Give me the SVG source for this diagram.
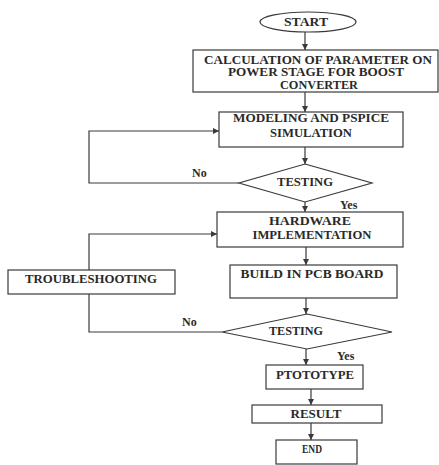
<svg xmlns="http://www.w3.org/2000/svg" width="439" height="465" viewBox="0 0 439 465">
<defs>
<style>
.box{fill:#fff;stroke:#3a3a3a;stroke-width:1.2}
.ln{fill:none;stroke:#3a3a3a;stroke-width:1.2}
.t{font-family:"Liberation Serif","DejaVu Serif",serif;font-weight:bold;font-size:12px;fill:#2a2a2a;text-anchor:middle}
.l{font-family:"Liberation Serif","DejaVu Serif",serif;font-weight:bold;font-size:12px;fill:#2a2a2a}
</style>
<marker id="ah" markerUnits="userSpaceOnUse" markerWidth="7" markerHeight="6" refX="6" refY="3" orient="auto">
<path d="M0,0 L6,3 L0,6 z" fill="#3a3a3a"/>
</marker>
</defs>
<rect x="0" y="0" width="439" height="465" fill="#fff"/>
<g id="connectors">
<line class="ln" x1="305" y1="32" x2="305" y2="50" marker-end="url(#ah)"/>
<line class="ln" x1="305" y1="92" x2="305" y2="112" marker-end="url(#ah)"/>
<line class="ln" x1="305" y1="147" x2="305" y2="164" marker-end="url(#ah)"/>
<line class="ln" x1="305" y1="202" x2="305" y2="212" marker-end="url(#ah)"/>
<line class="ln" x1="306" y1="247" x2="306" y2="265" marker-end="url(#ah)"/>
<line class="ln" x1="306" y1="298" x2="306" y2="314" marker-end="url(#ah)"/>
<line class="ln" x1="306" y1="349" x2="306" y2="365" marker-end="url(#ah)"/>
<line class="ln" x1="311" y1="389" x2="311" y2="405" marker-end="url(#ah)"/>
<line class="ln" x1="311" y1="423" x2="311" y2="440" marker-end="url(#ah)"/>
<polyline class="ln" points="239,183 89,183 89,131 219,131" marker-end="url(#ah)"/>
<polyline class="ln" points="89,270 89,234 217,234" marker-end="url(#ah)"/>
<polyline class="ln" points="222,332 89,332 89,294"/>
<text class="l" x="192" y="177">No</text>
<text class="l" x="340" y="209">Yes</text>
<text class="l" x="182" y="326">No</text>
<text class="l" x="337" y="360">Yes</text>
</g>
<g id="start">
<ellipse class="box" cx="308" cy="22" rx="48" ry="10"/>
<text class="t" x="306" y="26" textLength="44" lengthAdjust="spacingAndGlyphs">START</text>
</g>
<g id="calc">
<rect class="box" x="193" y="50" width="245" height="42"/>
<text class="t" x="318" y="63.5" textLength="228" lengthAdjust="spacingAndGlyphs">CALCULATION OF PARAMETER ON</text>
<text class="t" x="316" y="76" textLength="176" lengthAdjust="spacingAndGlyphs">POWER STAGE FOR BOOST</text>
<text class="t" x="319" y="89" textLength="78" lengthAdjust="spacingAndGlyphs">CONVERTER</text>
</g>
<g id="modeling">
<rect class="box" x="219" y="112" width="184" height="35"/>
<text class="t" x="311" y="122" textLength="156" lengthAdjust="spacingAndGlyphs">MODELING AND PSPICE</text>
<text class="t" x="311" y="137" textLength="82" lengthAdjust="spacingAndGlyphs">SIMULATION</text>
</g>
<g id="testing1">
<polygon class="box" points="305,164 372,183 305,202 239,183"/>
<text class="t" x="305" y="186" textLength="56" lengthAdjust="spacingAndGlyphs">TESTING</text>
</g>
<g id="hardware">
<rect class="box" x="217" y="212" width="186" height="35"/>
<text class="t" x="310" y="225" textLength="82" lengthAdjust="spacingAndGlyphs">HARDWARE</text>
<text class="t" x="312" y="239" textLength="119" lengthAdjust="spacingAndGlyphs">IMPLEMENTATION</text>
</g>
<g id="troubleshooting">
<rect class="box" x="8" y="270" width="167" height="24"/>
<text class="t" x="91" y="283" textLength="132" lengthAdjust="spacingAndGlyphs">TROUBLESHOOTING</text>
</g>
<g id="build">
<rect class="box" x="230" y="265" width="167" height="33"/>
<text class="t" x="312" y="278" textLength="143" lengthAdjust="spacingAndGlyphs">BUILD IN PCB BOARD</text>
</g>
<g id="testing2">
<polygon class="box" points="307,314 392,332 307,349 222,332"/>
<text class="t" x="296" y="335" textLength="54" lengthAdjust="spacingAndGlyphs">TESTING</text>
</g>
<g id="prototype">
<rect class="box" x="266" y="365" width="97" height="24"/>
<text class="t" x="315" y="379" textLength="78" lengthAdjust="spacingAndGlyphs">PTOTOTYPE</text>
</g>
<g id="result">
<rect class="box" x="252" y="405" width="130" height="18"/>
<text class="t" x="316" y="418" textLength="51" lengthAdjust="spacingAndGlyphs">RESULT</text>
</g>
<g id="end">
<rect class="box" x="276" y="440" width="81" height="24"/>
<text class="t" x="312" y="453" textLength="20" lengthAdjust="spacingAndGlyphs">END</text>
</g>
</svg>
